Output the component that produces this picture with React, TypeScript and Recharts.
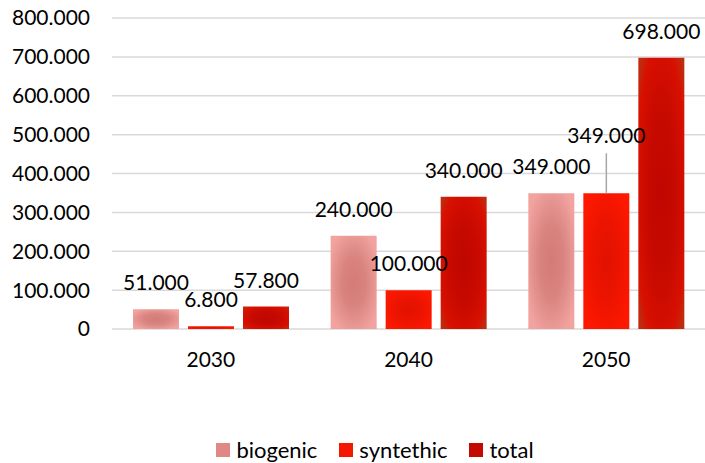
import React from 'react';
import { BarChart, Bar, XAxis, YAxis, CartesianGrid, Legend, LabelList } from 'recharts';

const years = ['2030', '2040', '2050'];
const biogenic = [51000, 240000, 349000];
const synthetic = [6800, 100000, 349000];
const total = [57800, 340000, 698000];
const yTicks = [0, 100000, 200000, 300000, 400000, 500000, 600000, 700000, 800000];
const seriesNames = ['biogenic', 'syntethic', 'total'];

const data = years.map((y, i) => ({
  year: y,
  biogenic: biogenic[i],
  synthetic: synthetic[i],
  total: total[i],
}));

const FONT = 'Lato, "Open Sans", sans-serif';
const FS = 21;

const fmt = (v: number) => (v === 0 ? '0' : String(Math.round(v)).replace(/\B(?=(\d{3})+(?!\d))/g, '.'));

const makeLabel = (lifted: number[]) => (props: any) => {
  const { x, y, width, value, index } = props;
  const cx = Number(x) + Number(width) / 2;
  const top = Number(y);
  const isLifted = lifted.includes(index);
  return (
    <g>
      {isLifted && (
        <line x1={cx} x2={cx} y1={top} y2={top - 40} stroke="#a6a6a6" strokeWidth={1.5} />
      )}
      <text
        x={cx}
        y={isLifted ? top - 50 : top - 19}
        textAnchor="middle"
        fill="#000"
        fontSize={FS}
        fontFamily={FONT}
      >
        {fmt(Number(value))}
      </text>
    </g>
  );
};

const legendColors = ['#e08884', '#f51800', '#c40a00'];

const LegendContent = () => (
  <div
    style={{
      display: 'flex',
      justifyContent: 'center',
      alignItems: 'center',
      gap: 22,
      paddingLeft: 45,
      fontFamily: FONT,
      fontSize: 22,
      color: '#000',
    }}
  >
    {seriesNames.map((n, i) => (
      <div key={n} style={{ display: 'flex', alignItems: 'center' }}>
        <span style={{ display: 'inline-block', width: 14, height: 14, background: legendColors[i], marginRight: 6 }} />
        <span>{n}</span>
      </div>
    ))}
  </div>
);

export default function App() {
  return (
    <div style={{ position: 'absolute', left: 0, top: 0, width: 705, height: 463, background: '#fff' }}>
      <BarChart
        width={705}
        height={463}
        data={data}
        margin={{ top: 18, right: 0, left: 0, bottom: 0 }}
        barSize={46}
        barGap={9}
      >
        <defs>
          <radialGradient id="gBio" cx="50%" cy="50%" r="60%">
            <stop offset="0%" stopColor="#d47b76" />
            <stop offset="45%" stopColor="#d98480" />
            <stop offset="100%" stopColor="#f2a3a0" />
          </radialGradient>
          <radialGradient id="gSyn" cx="50%" cy="50%" r="60%">
            <stop offset="0%" stopColor="#e01200" />
            <stop offset="50%" stopColor="#ec1400" />
            <stop offset="100%" stopColor="#ff1800" />
          </radialGradient>
          <radialGradient id="gTot" cx="50%" cy="50%" r="65%">
            <stop offset="0%" stopColor="#bf0600" />
            <stop offset="50%" stopColor="#c80a00" />
            <stop offset="85%" stopColor="#d81000" />
            <stop offset="100%" stopColor="#c02a10" />
          </radialGradient>
        </defs>
        <CartesianGrid vertical={false} stroke="#d9d9d9" strokeWidth={1.5} />
        <XAxis
          dataKey="year"
          height={134}
          axisLine={false}
          tickLine={false}
          tickMargin={17}
          tick={{ fill: '#000', fontSize: FS, fontFamily: FONT }}
        />
        <YAxis
          width={112}
          domain={[0, 800000]}
          ticks={yTicks}
          axisLine={false}
          tickLine={false}
          tickMargin={16}
          tickFormatter={fmt}
          tick={{ fill: '#000', fontSize: FS, fontFamily: FONT }}
        />
        <Legend
          layout="horizontal"
          verticalAlign="middle"
          align="center"
          wrapperStyle={{ top: 436, left: 0, width: 705 }}
          content={LegendContent}
        />
        <Bar dataKey="biogenic" name={seriesNames[0]} fill="url(#gBio)" isAnimationActive={false}>
          <LabelList dataKey="biogenic" content={makeLabel([])} />
        </Bar>
        <Bar dataKey="synthetic" name={seriesNames[1]} fill="url(#gSyn)" isAnimationActive={false}>
          <LabelList dataKey="synthetic" content={makeLabel([2])} />
        </Bar>
        <Bar dataKey="total" name={seriesNames[2]} fill="url(#gTot)" isAnimationActive={false}>
          <LabelList dataKey="total" content={makeLabel([])} />
        </Bar>
      </BarChart>
    </div>
  );
}
